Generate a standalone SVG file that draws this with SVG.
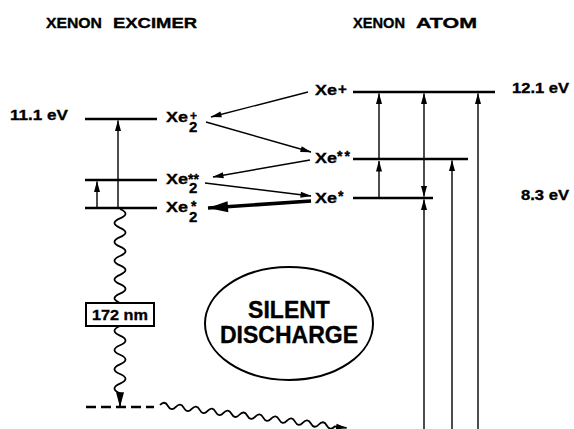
<svg xmlns="http://www.w3.org/2000/svg" width="574" height="429" viewBox="0 0 574 429">
<defs>
<style>
text{font-family:"Liberation Sans",Arial,Helvetica,sans-serif;font-weight:bold;fill:#000;stroke:#000;stroke-width:0.35}
.t{font-size:14.5px}
.lbl{font-size:15px}
.xe{font-size:15px}
.sub{font-size:15px}
.sup{font-size:14px}
.lev{stroke:#000;stroke-width:2.6;fill:none}
.thin{stroke:#000;stroke-width:1.4;fill:none}
.wave{stroke:#000;stroke-width:1.8;fill:none}
.big{font-size:23px}
</style>
<marker id="ah" markerUnits="userSpaceOnUse" markerWidth="11" markerHeight="6" refX="10.5" refY="3" orient="auto-start-reverse" overflow="visible"><path d="M0,0 L11,3 L0,6 z" fill="#000"/></marker>
<marker id="ahb" markerUnits="userSpaceOnUse" markerWidth="20" markerHeight="11" refX="20" refY="5.5" orient="auto" overflow="visible"><path d="M0,0 L20,5.5 L0,11 z" fill="#000"/></marker>
<marker id="ahw" markerUnits="userSpaceOnUse" markerWidth="15" markerHeight="8" refX="15" refY="4" orient="auto" overflow="visible"><path d="M0,0 L15,4 L0,8 z" fill="#000"/></marker>
</defs>
<rect width="574" height="429" fill="#fff"/>

<g id="title-excimer">
<text class="t" x="46" y="28" textLength="56" lengthAdjust="spacingAndGlyphs">XENON</text>
<text class="t" x="113" y="28" textLength="84" lengthAdjust="spacingAndGlyphs">EXCIMER</text>
</g>
<g id="title-atom">
<text class="t" x="353" y="28" textLength="52" lengthAdjust="spacingAndGlyphs">XENON</text>
<text class="t" x="416" y="28" textLength="61" lengthAdjust="spacingAndGlyphs">ATOM</text>
</g>

<g id="level-xe2plus">
<line class="lev" x1="85" y1="119" x2="157" y2="119"/>
<text class="lbl" x="10" y="120" textLength="58" lengthAdjust="spacingAndGlyphs">11.1 eV</text>
<text class="xe" y="122"><tspan x="166" textLength="22" lengthAdjust="spacingAndGlyphs">Xe</tspan><tspan x="190" y="119.5" style="font-size:12px">+</tspan><tspan x="189" y="132">2</tspan></text>
</g>
<g id="level-xe2starstar">
<line class="lev" x1="85" y1="180" x2="157" y2="180"/>
<text class="xe" y="184"><tspan x="166" textLength="22" lengthAdjust="spacingAndGlyphs">Xe</tspan><tspan x="188" y="184" style="font-size:14px">**</tspan><tspan x="189" y="193">2</tspan></text>
</g>
<g id="level-xe2star">
<line class="lev" x1="85" y1="208" x2="157" y2="208"/>
<text class="xe" y="212"><tspan x="166" textLength="22" lengthAdjust="spacingAndGlyphs">Xe</tspan><tspan x="191" y="211" style="font-size:14px">*</tspan><tspan x="189" y="222">2</tspan></text>
</g>
<g id="ground-dashed">
<line x1="86" y1="407" x2="154" y2="407" stroke="#000" stroke-width="2.6" stroke-dasharray="10 5"/>
</g>

<g id="level-xeplus">
<line class="lev" x1="353" y1="92" x2="495" y2="92"/>
<text class="xe" y="95"><tspan x="315" textLength="22" lengthAdjust="spacingAndGlyphs">Xe</tspan><tspan x="338" y="93.5">+</tspan></text>
<text class="lbl" x="512" y="93" textLength="57" lengthAdjust="spacingAndGlyphs">12.1 eV</text>
</g>
<g id="level-xestarstar">
<line class="lev" x1="353" y1="159" x2="468" y2="159"/>
<text class="xe" y="163"><tspan x="315" textLength="22" lengthAdjust="spacingAndGlyphs">Xe</tspan><tspan x="337" y="161" style="font-size:14px" letter-spacing="2">**</tspan></text>
</g>
<g id="level-xestar">
<line class="lev" x1="353" y1="198" x2="433" y2="198"/>
<text class="xe" y="203"><tspan x="315" textLength="22" lengthAdjust="spacingAndGlyphs">Xe</tspan><tspan x="338" y="201" style="font-size:14px">*</tspan></text>
<text class="lbl" x="521" y="200" textLength="48" lengthAdjust="spacingAndGlyphs">8.3 eV</text>
</g>

<g id="box-172nm">
<rect x="86" y="303" width="68" height="23" fill="#fff" stroke="#000" stroke-width="2"/>
<text x="92" y="320" style="font-size:15.5px" textLength="56" lengthAdjust="spacingAndGlyphs">172 nm</text>
</g>

<g id="silent-discharge">
<ellipse cx="289" cy="323.5" rx="84" ry="56.5" fill="none" stroke="#000" stroke-width="2"/>
<text class="big" x="289" y="318" text-anchor="middle">SILENT</text>
<text class="big" x="289" y="343" text-anchor="middle">DISCHARGE</text>
</g>

<g id="connectors">
<line class="thin" x1="118" y1="207" x2="118" y2="120.5" marker-end="url(#ah)"/>
<line class="thin" x1="97" y1="207" x2="97" y2="181.5" marker-end="url(#ah)"/>
<line class="thin" x1="379" y1="197" x2="379" y2="161" marker-end="url(#ah)"/>
<line class="thin" x1="379" y1="160" x2="379" y2="93.5" marker-end="url(#ah)"/>
<line class="thin" x1="424" y1="196.5" x2="424" y2="93.5" marker-start="url(#ah)" marker-end="url(#ah)"/>
<line class="thin" x1="424" y1="429" x2="424" y2="199.5" marker-end="url(#ah)"/>
<line class="thin" x1="452" y1="429" x2="452" y2="160.5" marker-end="url(#ah)"/>
<line class="thin" x1="478" y1="429" x2="478" y2="93.5" marker-end="url(#ah)"/>
<line class="thin" x1="308" y1="92" x2="211" y2="117" marker-end="url(#ah)"/>
<line class="thin" x1="206" y1="122" x2="311" y2="152" marker-end="url(#ah)"/>
<line class="thin" x1="310" y1="160" x2="213" y2="177" marker-end="url(#ah)"/>
<line class="thin" x1="205" y1="183" x2="311" y2="196" marker-end="url(#ah)"/>
<line x1="311" y1="201" x2="208" y2="208" stroke="#000" stroke-width="3.5" marker-end="url(#ahb)"/>
<path class="wave" d="M120,209 q11,4.7 0,9.4 t0,9.4 t0,9.4 t0,9.4 t0,9.4 t0,9.4 t0,9.4 t0,9.4 t0,9.4 t0,9.4"/>
<path class="wave" d="M120,326 q-11,4.8 0,9.6 t0,9.6 t0,9.6 t0,9.6 t0,9.6 t0,9.6 t0,9.6 l0,14" marker-end="url(#ahw)"/>
<path class="wave" transform="translate(160,405) rotate(7)" d="M0,0 q4,-5.5 8,0 t8,0 t8,0 t8,0 t8,0 t8,0 t8,0 t8,0 t8,0 t8,0 t8,0 t8,0 t8,0 t8,0 t8,0 t8,0 t8,0 t8,0 t8,0 t8,0 t8,0 t8,0 l12,0" marker-end="url(#ah)"/>
</g>
</svg>
